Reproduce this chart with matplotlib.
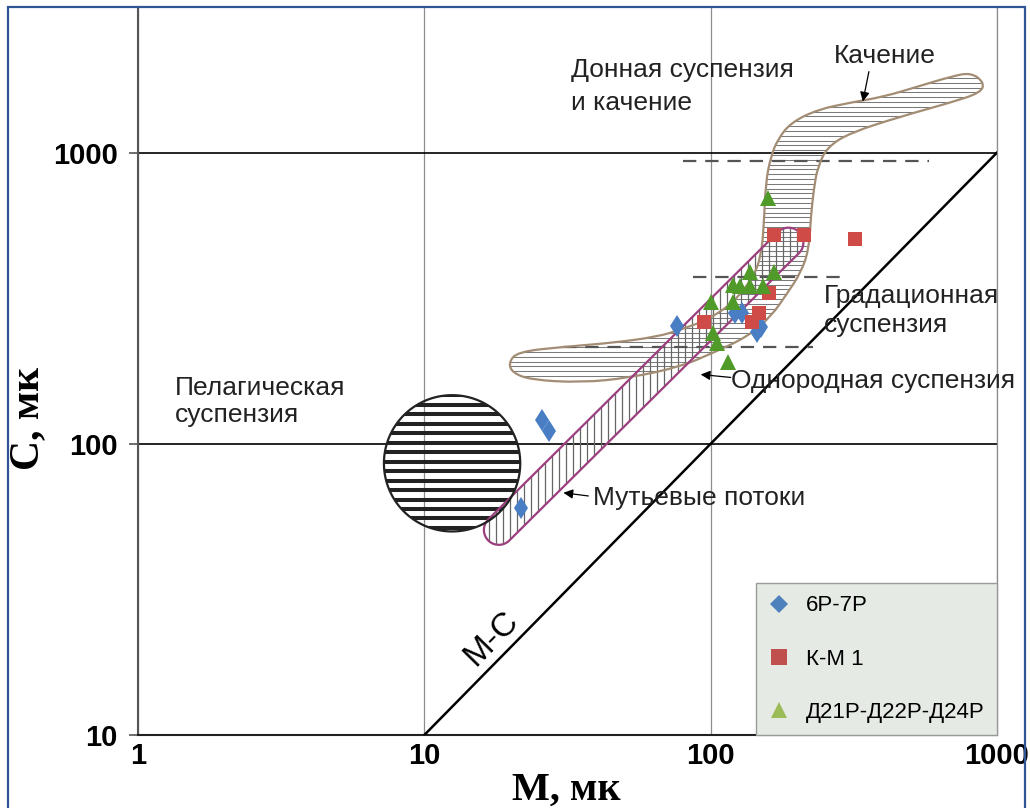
import numpy as np
import matplotlib.pyplot as plt
from matplotlib.path import Path
from matplotlib.patches import PathPatch, Rectangle
from matplotlib.lines import Line2D

# ---- samples: M (1st percentile) and C (median), microns ----
m_6p7p = [76, 25.7, 27.2, 21.8, 122, 129, 150, 145]
c_6p7p = [254, 121, 111, 60, 282, 282, 252, 243]

m_km1 = [166, 211, 319, 160, 147, 139, 95]
c_km1 = [522, 522, 506, 330, 282, 261, 261]

m_d21 = [158, 137, 166, 120, 127, 137, 152, 100, 120, 102, 105, 115]
c_d21 = [700, 390, 390, 352, 349, 349, 349, 308, 308, 240, 222, 191]

legend_labels = ['6Р-7Р', 'К-М 1', 'Д21Р-Д22Р-Д24Р']

x_ticks = [1, 10, 100, 1000]
y_ticks = [10, 100, 1000]

# C = M line
mc_line = [10, 1000]

# dashed boundaries: C level and M span
dash_c = [935, 375, 215]
dash_m0 = [80, 87, 30.6]
dash_m1 = [578, 297, 227]

# S-shaped field (rolling / graded suspension), log10 M and log10 C
field_lm = [1.294, 1.325, 1.486, 1.661, 1.815, 1.895, 1.990, 2.080, 2.150, 2.175,
            2.185, 2.192, 2.210, 2.234, 2.280, 2.374, 2.490, 2.605, 2.724, 2.839,
            2.909, 2.955, 2.944, 2.839, 2.664, 2.490, 2.409, 2.374, 2.360, 2.350,
            2.343, 2.315, 2.269, 2.210, 2.129, 2.010, 1.895, 1.720, 1.545, 1.371,
            1.308]
field_lc = [2.278, 2.316, 2.333, 2.347, 2.368, 2.392, 2.426, 2.485, 2.574, 2.643,
            2.735, 2.897, 2.986, 3.045, 3.103, 3.148, 3.172, 3.192, 3.227, 3.261,
            3.275, 3.241, 3.206, 3.172, 3.124, 3.069, 3.021, 2.952, 2.873, 2.780,
            2.667, 2.588, 2.519, 2.436, 2.368, 2.313, 2.265, 2.227, 2.210, 2.220,
            2.244]

# turbidity current band: end points and half width (decades)
band_m = [18.2, 187]
band_c = [50.6, 491]
band_w = 0.052

# pelagic suspension circle
pel_m, pel_c = 12.5, 85.7
pel_rx, pel_ry = 0.238, 0.234

fig = plt.figure(figsize=(10.3, 8.08), dpi=100)
ax = fig.add_axes([138/1030, 73/808, 859/1030, 728/808])
ax.set_xscale('log')
ax.set_yscale('log')
ax.set_xlim(1, 1000)
ax.set_ylim(10, 10**3.5)
ax.xaxis.set_minor_locator(plt.NullLocator())
ax.yaxis.set_minor_locator(plt.NullLocator())

tick_font = dict(fontfamily=['Liberation Sans Narrow', 'Liberation Sans'], fontweight='bold', fontsize=21)
ax.set_xticks(x_ticks, labels=[str(v) for v in x_ticks], **tick_font)
ax.set_yticks(y_ticks, labels=[str(v) for v in y_ticks], **tick_font)
ax.tick_params(axis='y', length=6.5, width=1.2, color='#555555', pad=8)
ax.tick_params(axis='x', length=0, pad=5)

ax.grid(axis='x', color='#8c8c8c', lw=0.9)
ax.grid(axis='y', color='black', lw=1.2)
ax.spines['top'].set_visible(False)
ax.spines['right'].set_color('#8c8c8c')
ax.spines['right'].set_linewidth(0.9)
ax.spines['left'].set_color('#555555')
ax.spines['left'].set_linewidth(1.5)
ax.spines['bottom'].set_color('#222222')
ax.spines['bottom'].set_linewidth(1.5)

# M = C line
ax.plot(mc_line, mc_line, color='black', lw=1.8, zorder=3)

# dashed boundaries
for c, m0, m1 in zip(dash_c, dash_m0, dash_m1):
    ax.plot([m0, m1], [c, c], color='#555555', lw=1.6, dashes=(6, 4), zorder=3)


def smooth_closed(lx, ly):
    pts = np.column_stack([lx, ly])
    mids = (pts + np.roll(pts, -1, axis=0)) / 2
    verts = [mids[-1]]
    codes = [Path.MOVETO]
    for i in range(len(pts)):
        verts += [pts[i], mids[i]]
        codes += [Path.CURVE3, Path.CURVE3]
    return Path(10 ** np.array(verts), codes)


def hatch(patch, vertical, step, lo, hi, **kw):
    vals = 10 ** np.arange(lo, hi, step)
    if vertical:
        lines = ax.vlines(vals, 10, 10**3.5, **kw)
    else:
        lines = ax.hlines(vals, 1, 1000, **kw)
    lines.set_clip_path(patch)


# S-shaped field
field = PathPatch(smooth_closed(field_lm, field_lc), facecolor='none',
                  edgecolor='#a38d74', lw=1.6, zorder=4)
ax.add_patch(field)
hatch(field, False, 0.0165, 2.2, 3.3, color='#7a7a7a', lw=0.75, zorder=2)

# turbidity band (capsule)
s = np.array([286.0, 291.0])
q1 = np.log10([band_m[0], band_c[0]]) * s
q2 = np.log10([band_m[1], band_c[1]]) * s
ang = np.arctan2(q2[1] - q1[1], q2[0] - q1[0])
r = band_w * 286
a2 = np.linspace(ang - np.pi/2, ang + np.pi/2, 30)
a1 = np.linspace(ang + np.pi/2, ang + 3*np.pi/2, 30)
cap = np.vstack([q2 + r*np.column_stack([np.cos(a2), np.sin(a2)]),
                 q1 + r*np.column_stack([np.cos(a1), np.sin(a1)])]) / s
band = PathPatch(Path(10 ** np.vstack([cap, cap[:1]]), closed=True), facecolor='none',
                 edgecolor='#9c3f7e', lw=1.6, zorder=4)
ax.add_patch(band)
hatch(band, True, 0.0245, 1.2, 2.4, color='#666666', lw=0.9, zorder=2)

# pelagic circle
t = np.linspace(0, 2*np.pi, 200)
circ = np.column_stack([np.log10(pel_m) + pel_rx*np.cos(t), np.log10(pel_c) + pel_ry*np.sin(t)])
circle = PathPatch(Path(10 ** circ, closed=True), facecolor='none', edgecolor='#222222', lw=1.6, zorder=4)
ax.add_patch(circle)
hatch(circle, False, 0.0325, np.log10(pel_c) - pel_ry + 0.012, np.log10(pel_c) + pel_ry,
      color='#222222', lw=2.9, zorder=2)

# samples
ax.plot(m_6p7p, c_6p7p, 'd', color='#4a7ec4', ms=11.5, mew=0, zorder=6)
ax.plot(m_km1, c_km1, 's', color='#cf4b48', ms=10, mew=0, zorder=6)
ax.plot(m_d21, c_d21, '^', color='#4f9a28', ms=11, mew=0, zorder=6)

# labels
lab = dict(fontfamily='Liberation Sans', fontsize=19, color='#222222', va='baseline', zorder=7)
ax.text(32.4, 1811, 'Донная суспензия', **lab)
ax.text(32.4, 1406, 'и качение', **lab)
ax.text(269, 2037, 'Качение', **lab)
ax.text(248, 305, 'Градационная', **lab)
ax.text(248, 243, 'суспензия', **lab)
ax.text(117.5, 156, 'Однородная суспензия', **lab)
ax.text(1.35, 147, 'Пелагическая', **lab)
ax.text(1.35, 119, 'суспензия', **lab)
ax.text(38.7, 61.6, 'Мутьевые потоки', **lab)
ax.text(17.2, 21.4, 'М-С', fontfamily='Liberation Sans', fontsize=24, color='black',
        rotation=45.5, ha='center', va='center', zorder=7)

arrow = dict(arrowstyle='-|>', color='black', lw=0.9, mutation_scale=14, shrinkA=0, shrinkB=0)
ax.annotate('', xy=(340, 1497), xytext=(357, 1897), arrowprops=arrow, zorder=7)
ax.annotate('', xy=(92.3, 173), xytext=(117.5, 169), arrowprops=arrow, zorder=7)
ax.annotate('', xy=(30.6, 67.9), xytext=(37.4, 66.2), arrowprops=arrow, zorder=7)

# legend
handles = [Line2D([], [], marker='D', color='#4f81bd', ls='none', ms=9.5, mew=0),
           Line2D([], [], marker='s', color='#c0504d', ls='none', ms=11.5, mew=0),
           Line2D([], [], marker='^', color='#9bbb59', ls='none', ms=12, mew=0)]
leg = ax.legend(handles, legend_labels, loc='lower right', bbox_to_anchor=(1, 0),
                borderaxespad=0, fancybox=False, facecolor='#e5eae5', edgecolor='#9a9a9a',
                framealpha=1, prop=dict(family='Liberation Sans', size=16),
                labelspacing=1.45, handlelength=1.0, handletextpad=0.7, borderpad=0.55)
leg.set_zorder(8)

# axis titles
fig.text(28/1030, 1 - 418/808, 'С, мк', rotation=90, ha='center', va='center',
         fontfamily='Liberation Serif', fontweight='bold', fontsize=30)
fig.text(566/1030, 1 - 790/808, 'М, мк', ha='center', va='center',
         fontfamily='Liberation Serif', fontweight='bold', fontsize=29)

# outer frame
fig.add_artist(Rectangle((8/1030, -0.05), 1017/1030, 1.05 - 7/808, transform=fig.transFigure,
                         fill=False, edgecolor='#2f5597', lw=1.6, clip_on=False))

fig.savefig('out.png', dpi=100)
